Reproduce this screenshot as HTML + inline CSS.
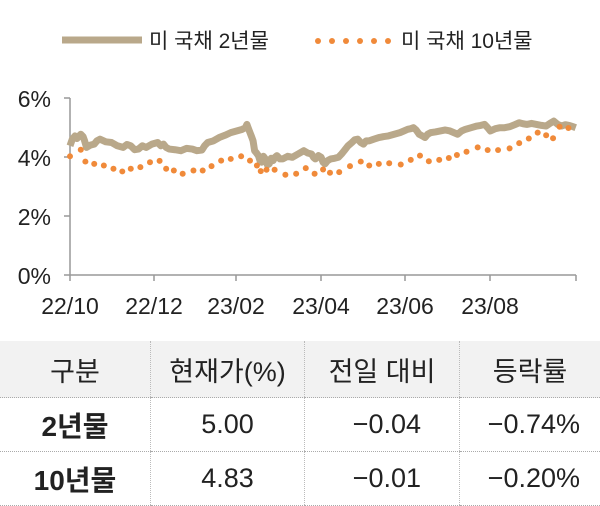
<!DOCTYPE html>
<html><head><meta charset="utf-8"><style>
body{margin:0;width:600px;height:504px;background:#fff;overflow:hidden;font-family:"Liberation Sans","Noto Sans CJK KR",sans-serif;position:relative}
svg{position:absolute;left:0;top:0}
table{position:absolute;left:0;top:341px;width:600px;border-collapse:collapse;font-family:"Liberation Sans","Noto Sans CJK KR",sans-serif}
td{text-align:center;height:53px;padding:0;border-bottom:1px dotted #aaa;border-left:1px dotted #bbb;font-size:27px;color:#222}
td:first-child{border-left:none;font-weight:bold;font-size:28px}
tr.h td{background:#f2f2f2;font-size:27px;font-weight:normal;height:56px}
tr.h td:first-child{font-weight:normal}
td.r{text-align:right;padding-right:20px}
</style></head><body>
<svg width="600" height="340" font-family="Liberation Sans, Noto Sans CJK KR, sans-serif">
<line x1="62" y1="40" x2="142" y2="40" stroke="#b9a88a" stroke-width="7"/>
<text x="149" y="48" font-size="21" fill="#222">미 국채 2년물</text>
<g fill="#f08a3a"><circle cx="318" cy="41" r="3"/><circle cx="332" cy="41" r="3"/><circle cx="346" cy="41" r="3"/><circle cx="360" cy="41" r="3"/><circle cx="374" cy="41" r="3"/><circle cx="388" cy="41" r="3"/></g>
<text x="401" y="48" font-size="21" fill="#222">미 국채 10년물</text>
<g stroke="#999" stroke-width="1.5">
<line x1="70" y1="98" x2="70" y2="275"/><line x1="70" y1="275" x2="576" y2="275"/>
<line x1="64" y1="98" x2="70" y2="98"/><line x1="64" y1="157" x2="70" y2="157"/><line x1="64" y1="216" x2="70" y2="216"/><line x1="64" y1="275" x2="70" y2="275"/>
<line x1="70" y1="275" x2="70" y2="281"/><line x1="154" y1="275" x2="154" y2="281"/><line x1="236" y1="275" x2="236" y2="281"/><line x1="321" y1="275" x2="321" y2="281"/><line x1="405" y1="275" x2="405" y2="281"/><line x1="490" y1="275" x2="490" y2="281"/><line x1="576" y1="275" x2="576" y2="281"/>
</g>
<g font-size="23" fill="#222" text-anchor="end">
<text x="51" y="107">6%</text><text x="51" y="166">4%</text><text x="51" y="225">2%</text><text x="51" y="284">0%</text>
</g>
<g font-size="23" fill="#222" text-anchor="middle">
<text x="70" y="314">22/10</text><text x="154" y="314">22/12</text><text x="236" y="314">23/02</text><text x="321" y="314">23/04</text><text x="405" y="314">23/06</text><text x="490" y="314">23/08</text>
</g>
<g transform="translate(0,80) scale(0.3846,0.3289)">
<polyline fill="none" stroke="#b9a88a" stroke-width="7" vector-effect="non-scaling-stroke" stroke-linejoin="round" points="182,200 188,180 195,170 200,178 210,165 216,172 220,185 225,205 235,198 245,195 252,185 260,180 275,188 290,190 305,200 320,205 330,196 340,200 350,212 360,210 370,200 380,205 395,195 410,190 418,200 425,195 432,205 440,210 455,212 470,215 485,208 500,210 512,215 525,213 532,200 540,190 555,185 570,175 585,168 600,160 615,155 630,150 638,145 642,135 646,148 650,160 654,172 658,185 662,215 667,222 672,230 676,245 680,250 685,232 690,240 695,258 700,255 705,238 710,245 715,235 720,230 728,240 735,240 748,232 760,235 775,225 790,215 800,222 810,225 815,235 820,240 828,230 835,235 840,250 845,255 852,245 860,240 870,238 880,235 888,225 895,215 905,200 915,190 922,182 930,180 938,190 945,195 952,185 960,185 972,180 985,175 998,172 1010,170 1025,165 1040,160 1050,155 1060,150 1068,148 1075,145 1082,152 1090,165 1098,170 1105,175 1112,165 1120,160 1132,158 1145,155 1158,152 1170,155 1180,160 1190,165 1200,155 1210,150 1225,145 1240,140 1250,138 1260,135 1268,145 1275,155 1288,148 1300,145 1312,145 1325,142 1338,136 1350,130 1360,133 1370,135 1382,132 1395,135 1408,138 1420,140 1430,132 1440,125 1450,135 1460,140 1470,136 1480,138 1490,142 1497,145"/>
<g fill="#f08a3a">
<ellipse cx="182" cy="232" rx="7.8" ry="9.1"/><ellipse cx="210" cy="212" rx="7.8" ry="9.1"/><ellipse cx="222" cy="248" rx="7.8" ry="9.1"/><ellipse cx="245" cy="255" rx="7.8" ry="9.1"/><ellipse cx="270" cy="260" rx="7.8" ry="9.1"/><ellipse cx="295" cy="270" rx="7.8" ry="9.1"/><ellipse cx="318" cy="278" rx="7.8" ry="9.1"/><ellipse cx="340" cy="270" rx="7.8" ry="9.1"/><ellipse cx="365" cy="265" rx="7.8" ry="9.1"/><ellipse cx="390" cy="250" rx="7.8" ry="9.1"/><ellipse cx="415" cy="246" rx="7.8" ry="9.1"/><ellipse cx="432" cy="270" rx="7.8" ry="9.1"/><ellipse cx="452" cy="275" rx="7.8" ry="9.1"/><ellipse cx="475" cy="285" rx="7.8" ry="9.1"/><ellipse cx="503" cy="275" rx="7.8" ry="9.1"/><ellipse cx="527" cy="275" rx="7.8" ry="9.1"/><ellipse cx="550" cy="262" rx="7.8" ry="9.1"/><ellipse cx="575" cy="245" rx="7.8" ry="9.1"/><ellipse cx="600" cy="240" rx="7.8" ry="9.1"/><ellipse cx="627" cy="232" rx="7.8" ry="9.1"/><ellipse cx="650" cy="245" rx="7.8" ry="9.1"/><ellipse cx="668" cy="260" rx="7.8" ry="9.1"/><ellipse cx="678" cy="277" rx="7.8" ry="9.1"/><ellipse cx="693" cy="273" rx="7.8" ry="9.1"/><ellipse cx="714" cy="273" rx="7.8" ry="9.1"/><ellipse cx="742" cy="288" rx="7.8" ry="9.1"/><ellipse cx="770" cy="285" rx="7.8" ry="9.1"/><ellipse cx="795" cy="268" rx="7.8" ry="9.1"/><ellipse cx="818" cy="285" rx="7.8" ry="9.1"/><ellipse cx="840" cy="272" rx="7.8" ry="9.1"/><ellipse cx="858" cy="282" rx="7.8" ry="9.1"/><ellipse cx="882" cy="280" rx="7.8" ry="9.1"/><ellipse cx="910" cy="262" rx="7.8" ry="9.1"/><ellipse cx="938" cy="248" rx="7.8" ry="9.1"/><ellipse cx="960" cy="260" rx="7.8" ry="9.1"/><ellipse cx="985" cy="255" rx="7.8" ry="9.1"/><ellipse cx="1012" cy="253" rx="7.8" ry="9.1"/><ellipse cx="1042" cy="257" rx="7.8" ry="9.1"/><ellipse cx="1068" cy="243" rx="7.8" ry="9.1"/><ellipse cx="1092" cy="230" rx="7.8" ry="9.1"/><ellipse cx="1115" cy="247" rx="7.8" ry="9.1"/><ellipse cx="1142" cy="243" rx="7.8" ry="9.1"/><ellipse cx="1167" cy="237" rx="7.8" ry="9.1"/><ellipse cx="1188" cy="228" rx="7.8" ry="9.1"/><ellipse cx="1213" cy="218" rx="7.8" ry="9.1"/><ellipse cx="1242" cy="205" rx="7.8" ry="9.1"/><ellipse cx="1268" cy="213" rx="7.8" ry="9.1"/><ellipse cx="1295" cy="213" rx="7.8" ry="9.1"/><ellipse cx="1325" cy="208" rx="7.8" ry="9.1"/><ellipse cx="1350" cy="192" rx="7.8" ry="9.1"/><ellipse cx="1375" cy="178" rx="7.8" ry="9.1"/><ellipse cx="1398" cy="160" rx="7.8" ry="9.1"/><ellipse cx="1420" cy="168" rx="7.8" ry="9.1"/><ellipse cx="1438" cy="177" rx="7.8" ry="9.1"/><ellipse cx="1455" cy="142" rx="7.8" ry="9.1"/><ellipse cx="1478" cy="146" rx="7.8" ry="9.1"/>
</g></g>
</svg>
<table>
<tr class="h"><td style="width:150px">구분</td><td style="width:153px">현재가(%)</td><td style="width:154px">전일 대비</td><td>등락률</td></tr>
<tr><td>2년물</td><td>5.00</td><td class="r" style="padding-right:38px">−0.04</td><td class="r">−0.74%</td></tr>
<tr><td>10년물</td><td>4.83</td><td class="r" style="padding-right:38px">−0.01</td><td class="r">−0.20%</td></tr>
</table>
</body></html>
